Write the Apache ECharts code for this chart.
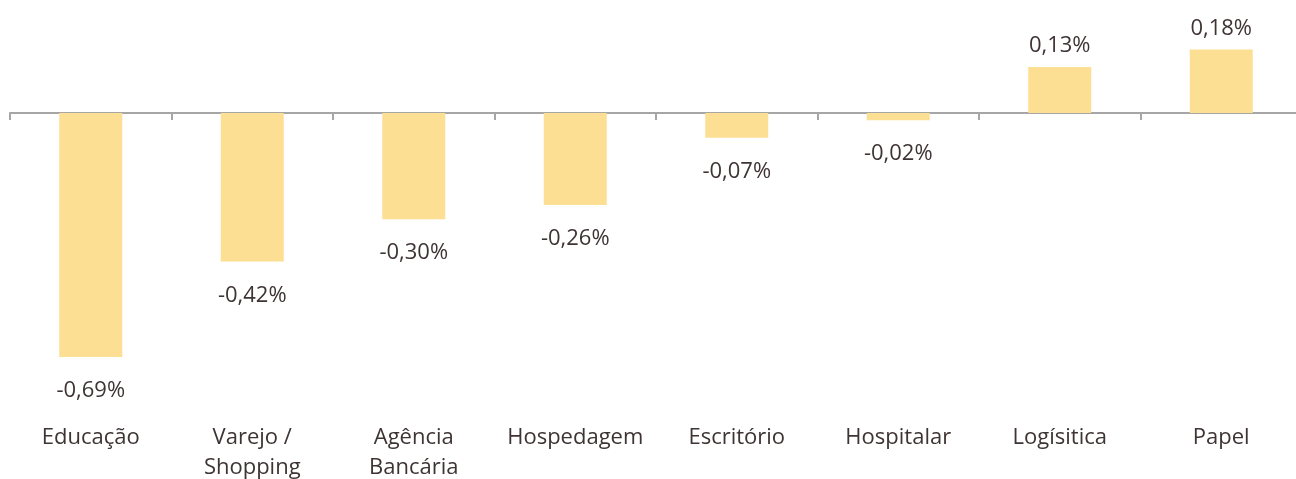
<!DOCTYPE html>
<html>
<head>
<meta charset="utf-8">
<script src="https://cdn.jsdelivr.net/npm/echarts@6/dist/echarts.min.js"></script>
<style>
  html, body { margin: 0; padding: 0; background: #ffffff; }
  #main { width: 1296px; height: 479px; }
</style>
</head>
<body>
<div id="main"></div>
<script>
// dados do gráfico
var categorias = ['Educação', 'Varejo /\nShopping', 'Agência\nBancária', 'Hospedagem', 'Escritório', 'Hospitalar', 'Logísitica', 'Papel'];
var valores = [-0.69, -0.42, -0.30, -0.26, -0.07, -0.02, 0.13, 0.18];

var corTexto = '#3f3434';
var fonte = '"Open Sans", sans-serif';

var chartDom = document.getElementById('main');
var myChart = echarts.init(chartDom);

var dados = valores.map(function (v) {
  return {
    value: v,
    label: {
      position: v < 0 ? 'bottom' : 'top',
      distance: v < 0 ? 23 : 10
    }
  };
});

var option = {
  animation: false,
  grid: {
    left: 10,
    right: -6,
    top: 7,
    height: 389,
    outerBoundsMode: 'none'
  },
  xAxis: [
    {
      type: 'category',
      data: categorias,
      axisLine: { onZero: true, lineStyle: { color: '#a6a6a6', width: 2 } },
      axisTick: { show: true, length: 7, lineStyle: { color: '#a6a6a6', width: 2 } },
      axisLabel: { show: false }
    },
    {
      type: 'category',
      position: 'bottom',
      data: categorias,
      axisLine: { show: false, onZero: false },
      axisTick: { show: false },
      axisLabel: {
        interval: 0,
        margin: 27,
        color: corTexto,
        fontFamily: fonte,
        fontSize: 22,
        lineHeight: 30
      }
    }
  ],
  yAxis: {
    type: 'value',
    min: -0.8,
    max: 0.3,
    show: false,
    splitLine: { show: false }
  },
  series: [
    {
      name: 'Variação',
      type: 'bar',
      barWidth: '39%',
      data: dados,
      itemStyle: { color: '#fddf94' },
      label: {
        show: true,
        color: corTexto,
        fontFamily: fonte,
        fontSize: 22,
        formatter: function (p) {
          return p.value.toFixed(2).replace('.', ',') + '%';
        }
      }
    }
  ]
};

myChart.setOption(option);
</script>
</body>
</html>
